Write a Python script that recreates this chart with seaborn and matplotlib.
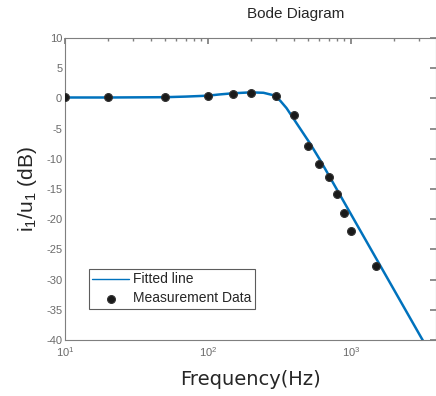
import numpy as np
import pandas as pd
import matplotlib
matplotlib.use("Agg")
import matplotlib.pyplot as plt
import seaborn as sns

meas_freq = [10, 20, 50, 100, 150, 200, 300, 400, 500, 600, 700, 800, 900, 1000, 1500]
meas_db = [0.2, 0.2, 0.2, 0.45, 0.73, 0.95, 0.45, -2.7, -7.8, -10.9, -13.0, -15.9, -18.9, -22.0, -27.8]

# Fitted line
fit_freq = [10, 20, 50, 70, 100, 120, 150, 200, 245, 285, 320, 355, 420, 520, 610, 3200]
fit_db = [0.15, 0.15, 0.2, 0.3, 0.45, 0.65, 0.85, 1.0, 0.93, 0.55, -0.35, -1.6, -4.2,
          -7.5, -10.2, -40.1]

meas = pd.DataFrame({"freq": meas_freq, "db": meas_db})
fit = pd.DataFrame({"freq": fit_freq, "db": fit_db})

sns.set_theme(style="white")
plt.rcParams["font.family"] = ["Liberation Sans", "DejaVu Sans"]
plt.rcParams["mathtext.fontset"] = "custom"
plt.rcParams["mathtext.rm"] = "Liberation Sans"
plt.rcParams["mathtext.it"] = "Liberation Sans"
plt.rcParams["axes.unicode_minus"] = False

fig = plt.figure(figsize=(4.36, 3.96), dpi=100)
ax = fig.add_axes([65 / 436, 1 - 340 / 396, 371 / 436, 302 / 396])

sns.lineplot(data=fit, x="freq", y="db", ax=ax, color="#0072BD", linewidth=1.8,
             label="Fitted line")
sns.scatterplot(data=meas, x="freq", y="db", ax=ax, color="#1a1a1a", edgecolor="#333333",
                s=32, linewidth=0.8, label="Measurement Data", zorder=3)

ax.set_xscale("log")
ax.set_xlim(10, 3950)
ax.set_ylim(-40, 10)
ax.set_yticks(np.arange(-40, 11, 5))
ax.set_xticks([10, 100, 1000])
ax.set_xticklabels(["$10^{1}$", "$10^{2}$", "$10^{3}$"], fontsize=10)

gray = "#7f7f7f"
for s in ax.spines.values():
    s.set_color(gray)
    s.set_linewidth(0.8)
ax.tick_params(which="both", direction="in", top=True, right=True, colors=gray,
               labelsize=8, labelcolor="#6a6a6a")
ax.tick_params(which="major", length=4)
ax.tick_params(which="minor", length=2)
ax.tick_params(axis="x", pad=4)
ax.tick_params(axis="y", pad=2)

ax.set_xlabel("Frequency(Hz)", fontsize=14, family=["DejaVu Sans"], labelpad=8)
ax.set_ylabel("$\\mathregular{i_1/u_1}$ (dB)", fontsize=15, labelpad=5)
fig.text(296 / 436, 1 - 14 / 396, "Bode Diagram", ha="center", va="center", fontsize=11)

leg = ax.legend(loc="upper left", bbox_to_anchor=(24 / 371, 1 - 231 / 302),
                frameon=True, fancybox=False, fontsize=10, borderpad=0.25,
                handlelength=2.6, handletextpad=0.3, labelspacing=0.35,
                borderaxespad=0)
leg.get_frame().set_edgecolor("#333333")
leg.get_frame().set_linewidth(0.8)
leg.get_lines()[0].set_linewidth(1.0)

fig.savefig("out.png", dpi=100)
